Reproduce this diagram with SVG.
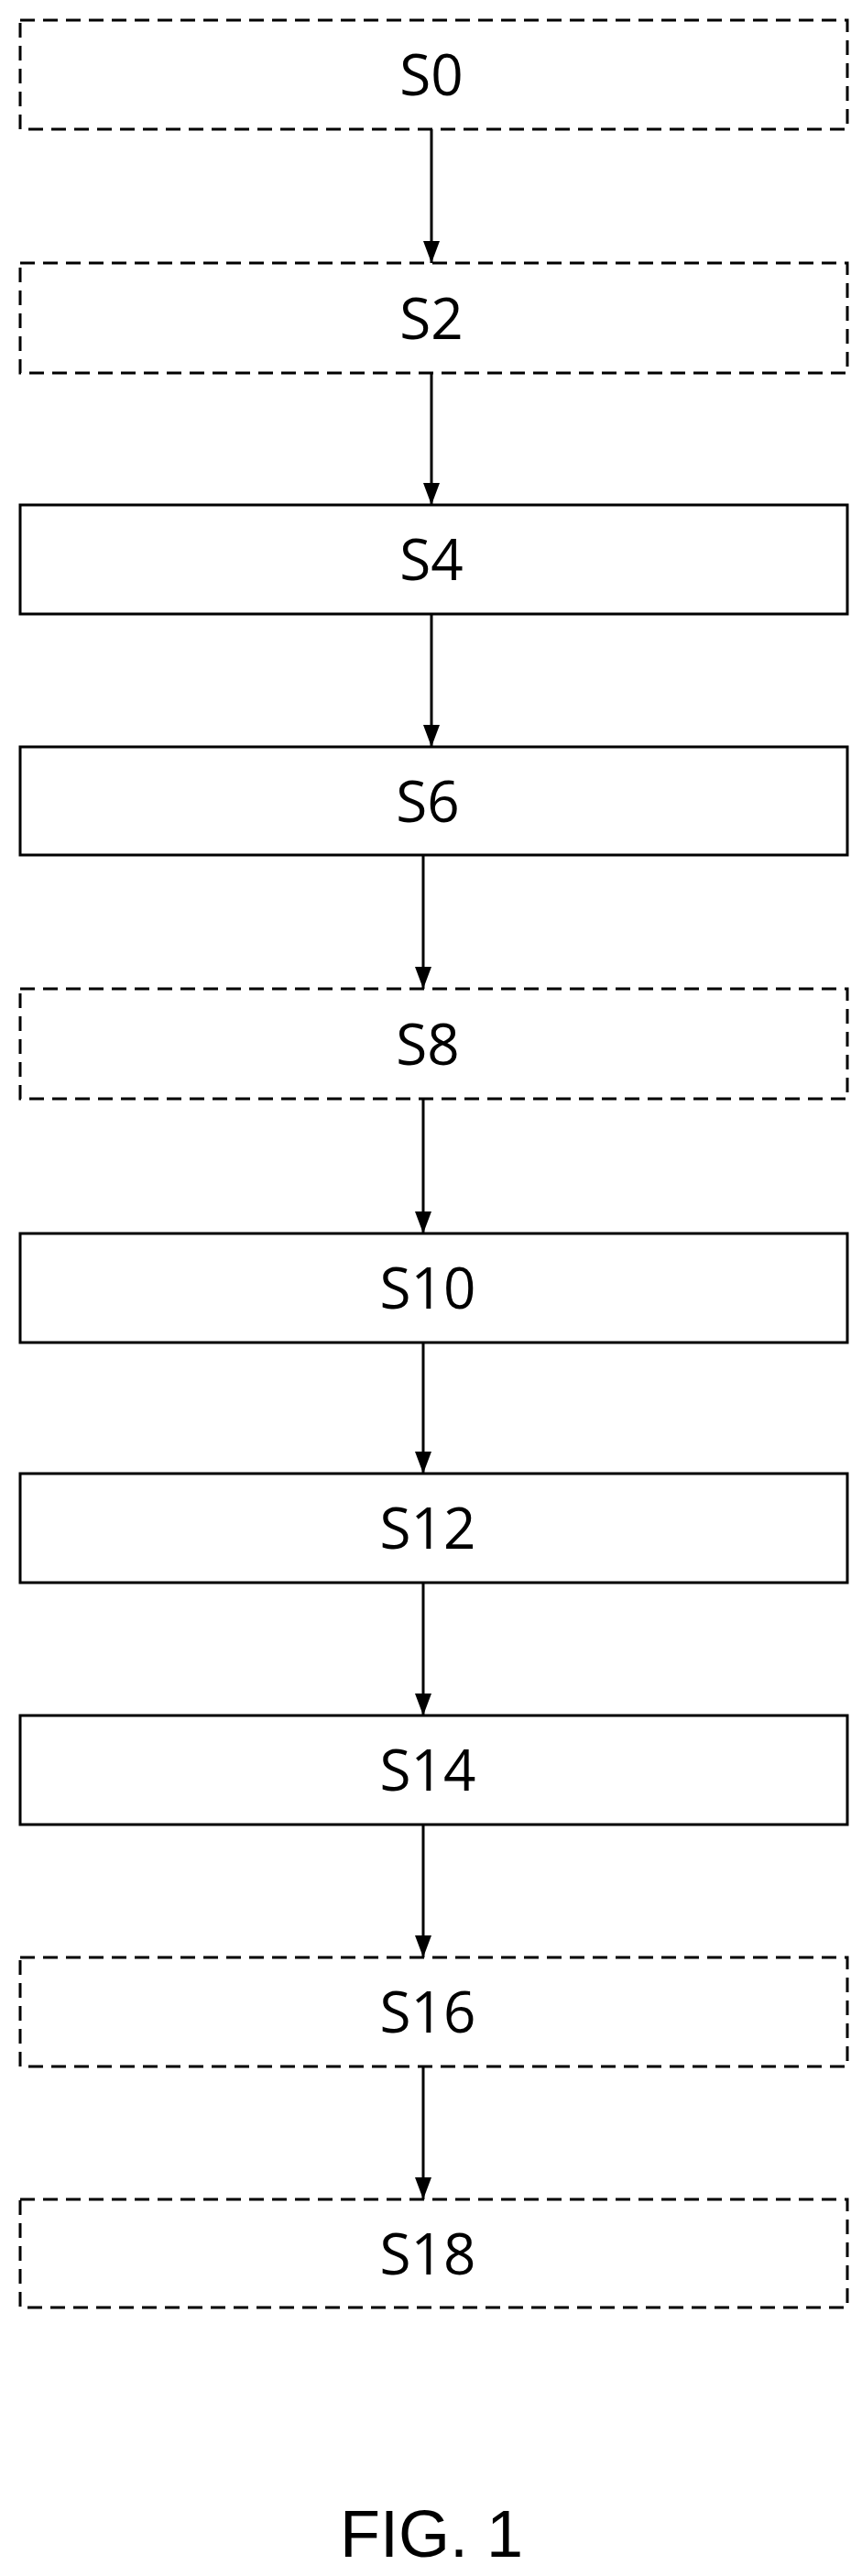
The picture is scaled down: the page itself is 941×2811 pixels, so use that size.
<svg xmlns="http://www.w3.org/2000/svg" width="941" height="2811" viewBox="0 0 941 2811">
<style>
.b{fill:#fff;stroke:#000;stroke-width:3}
.d{stroke-dasharray:16 9}
.t{font-family:"Open Sans","Liberation Sans",sans-serif;font-size:62px;text-anchor:middle;fill:#000}
.c{stroke:#000;stroke-width:3;fill:none;marker-end:url(#a)}
</style>
<defs><marker id="a" markerUnits="userSpaceOnUse" markerWidth="24" markerHeight="18" refX="24" refY="9" orient="auto" viewBox="0 0 24 18"><polygon points="0,0 24,9 0,18" fill="#000"/></marker></defs>
<g id="connectors">
<line class="c" x1="471" y1="141" x2="471" y2="287"/>
<line class="c" x1="471" y1="407" x2="471" y2="551"/>
<line class="c" x1="471" y1="670" x2="471" y2="815"/>
<line class="c" x1="462" y1="933" x2="462" y2="1079"/>
<line class="c" x1="462" y1="1199" x2="462" y2="1346"/>
<line class="c" x1="462" y1="1465" x2="462" y2="1608"/>
<line class="c" x1="462" y1="1727" x2="462" y2="1872"/>
<line class="c" x1="462" y1="1991" x2="462" y2="2136"/>
<line class="c" x1="462" y1="2255" x2="462" y2="2400"/>
</g>
<g id="S0"><rect class="b d" x="22" y="22" width="903" height="119"/><text class="t" x="471" y="104">S0</text></g>
<g id="S2"><rect class="b d" x="22" y="287" width="903" height="120"/><text class="t" x="471" y="370">S2</text></g>
<g id="S4"><rect class="b" x="22" y="551" width="903" height="119"/><text class="t" x="471" y="633">S4</text></g>
<g id="S6"><rect class="b" x="22" y="815" width="903" height="118"/><text class="t" x="467" y="897">S6</text></g>
<g id="S8"><rect class="b d" x="22" y="1079" width="903" height="120"/><text class="t" x="467" y="1162">S8</text></g>
<g id="S10"><rect class="b" x="22" y="1346" width="903" height="119"/><text class="t" x="467" y="1428">S10</text></g>
<g id="S12"><rect class="b" x="22" y="1608" width="903" height="119"/><text class="t" x="467" y="1690">S12</text></g>
<g id="S14"><rect class="b" x="22" y="1872" width="903" height="119"/><text class="t" x="467" y="1954">S14</text></g>
<g id="S16"><rect class="b d" x="22" y="2136" width="903" height="119"/><text class="t" x="467" y="2218">S16</text></g>
<g id="S18"><rect class="b d" x="22" y="2400" width="903" height="118"/><text class="t" x="467" y="2482">S18</text></g>
<text x="471" y="2790" style="font-family:'Liberation Sans',Arial,sans-serif;font-size:72px;text-anchor:middle">FIG. 1</text>
</svg>
